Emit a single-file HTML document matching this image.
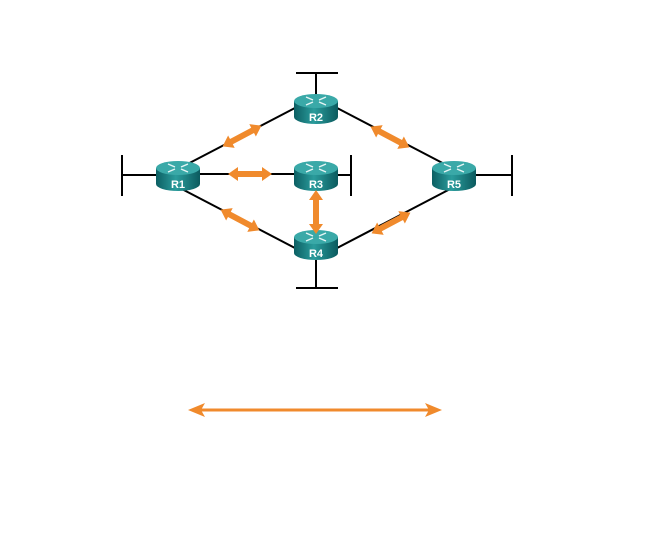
<!DOCTYPE html>
<html><head><meta charset="utf-8"><style>
html,body{margin:0;padding:0;background:#fff;width:653px;height:556px;overflow:hidden}
</style></head><body>
<svg width="653" height="556" viewBox="0 0 653 556" xmlns="http://www.w3.org/2000/svg">
<defs>
<linearGradient id="body" x1="0" x2="1" y1="0" y2="0">
<stop offset="0" stop-color="#0c5f63"/><stop offset="0.45" stop-color="#2a9c9c"/><stop offset="1" stop-color="#0b5a5e"/>
</linearGradient>
<g id="rt">
<path d="M-22,-6 L-22,10 A22,7 0 0 0 22,10 L22,-6 Z" fill="url(#body)"/>
<ellipse cx="0" cy="-6" rx="22" ry="7" fill="#3aa9a8"/>
<g stroke="#e6f5f5" stroke-width="1.4" fill="none">
<path d="M-10,-10 L-3,-7 M-10,-2 L-3,-5 M10,-10 L3,-7 M10,-2 L3,-5"/>
</g>
</g>
<g id="dbl" fill="#f08a2c">
<path d="M-22,0 L-12,-7 L-12,-3 L12,-3 L12,-7 L22,0 L12,7 L12,3 L-12,3 L-12,7 Z"/>
</g>
</defs>
<g stroke="#000" stroke-width="2" fill="none">
<line x1="178" y1="169" x2="316" y2="97"/>
<line x1="178" y1="174" x2="316" y2="174"/>
<line x1="178" y1="187" x2="316" y2="259"/>
<line x1="316" y1="97" x2="454" y2="169"/>
<line x1="316" y1="259" x2="454" y2="187"/>
<line x1="122" y1="175" x2="170" y2="175"/>
<line x1="122" y1="155" x2="122" y2="196"/>
<line x1="316" y1="73" x2="316" y2="100"/>
<line x1="296" y1="73" x2="338" y2="73"/>
<line x1="330" y1="175" x2="351" y2="175"/>
<line x1="351" y1="155" x2="351" y2="196"/>
<line x1="316" y1="250" x2="316" y2="288"/>
<line x1="296" y1="288" x2="338" y2="288"/>
<line x1="470" y1="175" x2="512" y2="175"/>
<line x1="512" y1="155" x2="512" y2="196"/>
</g>
<use href="#rt" x="178" y="174"/>
<use href="#rt" x="316" y="107"/>
<use href="#rt" x="316" y="174"/>
<use href="#rt" x="316" y="243"/>
<use href="#rt" x="454" y="174"/>
<g font-family="Liberation Sans, sans-serif" font-weight="bold" font-size="11" fill="#fff" text-anchor="middle">
<text x="178" y="188">R1</text><text x="316" y="121">R2</text><text x="316" y="188">R3</text><text x="316" y="257">R4</text><text x="454" y="188">R5</text>
</g>
<use href="#dbl" transform="translate(242,136) rotate(-28)"/>
<use href="#dbl" transform="translate(250,174)"/>
<use href="#dbl" transform="translate(240,220) rotate(28)"/>
<use href="#dbl" transform="translate(316,212) rotate(90)"/>
<use href="#dbl" transform="translate(390,137) rotate(28)"/>
<use href="#dbl" transform="translate(391,223) rotate(-28)"/>
<g fill="#f08a2c">
<rect x="200" y="408.5" width="230" height="3"/>
<path d="M188,410 L205,403 L201,410 L205,417 Z"/>
<path d="M442,410 L425,403 L429,410 L425,417 Z"/>
</g>
</svg>
</body></html>
